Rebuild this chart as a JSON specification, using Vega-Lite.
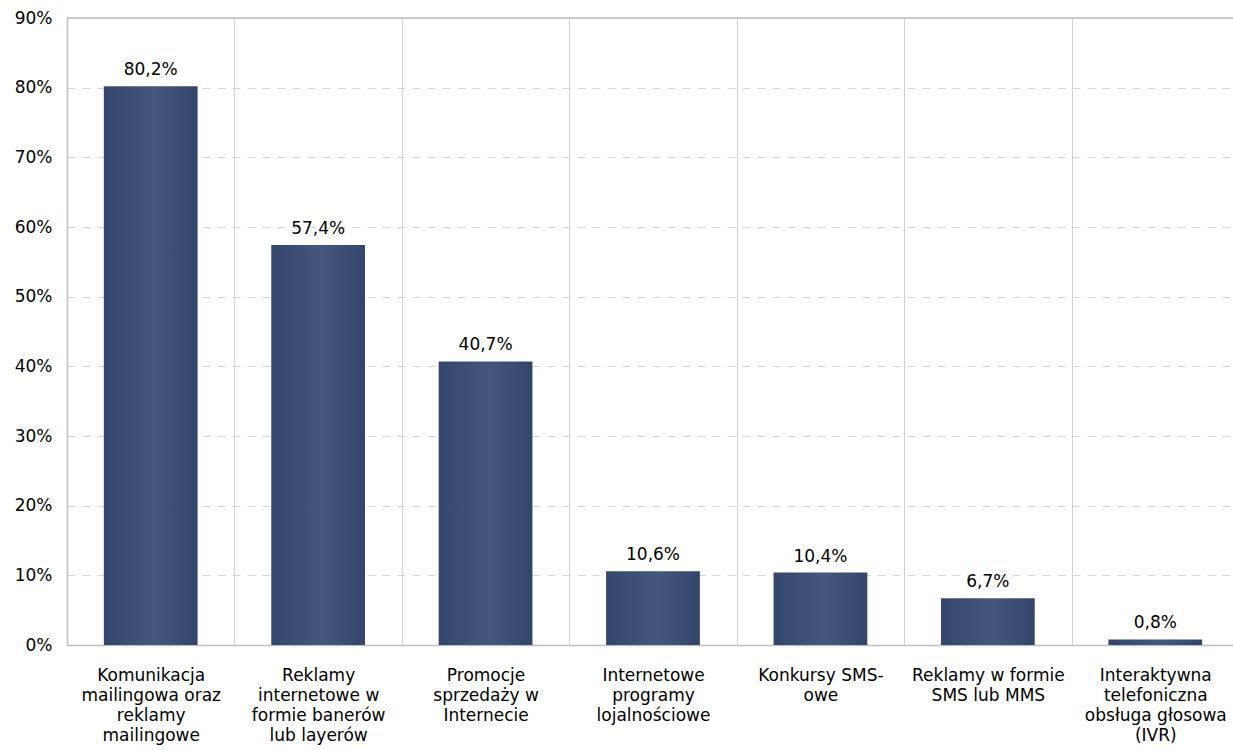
{
  "$schema": "https://vega.github.io/schema/vega-lite/v6.json",
  "autosize": {"type": "none"},
  "width": 1172,
  "height": 627,
  "padding": {"left": 67, "top": 18, "right": 0, "bottom": 105},
  "background": "white",
  "config": {
    "view": {"stroke": null},
    "font": "DejaVu Sans",
    "locale": {"number": {"decimal": ",", "thousands": " ", "grouping": [3], "currency": ["", " zł"]}}
  },
  "data": {
    "values": [
      {"kategoria": "Komunikacja\nmailingowa oraz\nreklamy\nmailingowe", "udzial": 0.802},
      {"kategoria": "Reklamy\ninternetowe w\nformie banerów\nlub layerów", "udzial": 0.574},
      {"kategoria": "Promocje\nsprzedaży w\nInternecie", "udzial": 0.407},
      {"kategoria": "Internetowe\nprogramy\nlojalnościowe", "udzial": 0.106},
      {"kategoria": "Konkursy SMS-\nowe", "udzial": 0.104},
      {"kategoria": "Reklamy w formie\nSMS lub MMS", "udzial": 0.067},
      {"kategoria": "Interaktywna\ntelefoniczna\nobsługa głosowa\n(IVR)", "udzial": 0.008}
    ]
  },
  "encoding": {
    "x": {
      "field": "kategoria",
      "type": "nominal",
      "sort": null,
      "scale": {"paddingInner": 0, "paddingOuter": 0},
      "axis": {
        "title": null,
        "labelAngle": 0,
        "labelExpr": "isString(datum.value) ? split(datum.value, '\\n') : ''",
        "labelFontSize": 17,
        "labelLineHeight": 20,
        "labelColor": "#000000",
        "labelBaseline": "top",
        "labelPadding": 22,
        "labelLimit": 300,
        "ticks": false,
        "domain": true,
        "domainColor": "#bfbfbf",
        "domainWidth": 1.5,
        "grid": true,
        "gridColor": "#d0d0d0",
        "tickBand": "extent"
      }
    },
    "y": {
      "field": "udzial",
      "type": "quantitative",
      "scale": {"domain": [0, 0.9], "nice": false},
      "axis": {
        "title": null,
        "values": [0, 0.1, 0.2, 0.3, 0.4, 0.5, 0.6, 0.7, 0.8, 0.9],
        "format": ".0%",
        "labelFontSize": 17,
        "labelColor": "#000000",
        "labelPadding": 15,
        "ticks": false,
        "domain": true,
        "domainColor": "#bfbfbf",
        "domainWidth": 1.5,
        "grid": true,
        "gridColor": "#d6d6d6",
        "gridDash": [8, 7]
      }
    }
  },
  "layer": [
    {
      "mark": {
        "type": "bar",
        "width": {"band": 0.56},
        "color": {
          "gradient": "linear",
          "x1": 0, "x2": 1, "y1": 0, "y2": 0,
          "stops": [
            {"offset": 0, "color": "#34466b"},
            {"offset": 0.55, "color": "#45577d"},
            {"offset": 1, "color": "#33456a"}
          ]
        }
      }
    },
    {
      "mark": {"type": "text", "baseline": "alphabetic", "dy": -11, "fontSize": 17, "color": "#000000"},
      "encoding": {
        "text": {"field": "udzial", "type": "quantitative", "format": ".1%"}
      }
    },
    {
      "mark": {"type": "rule", "color": "#c8c8c8", "strokeWidth": 1.5},
      "encoding": {
        "y": {"datum": 0.9},
        "x": null
      }
    }
  ]
}
